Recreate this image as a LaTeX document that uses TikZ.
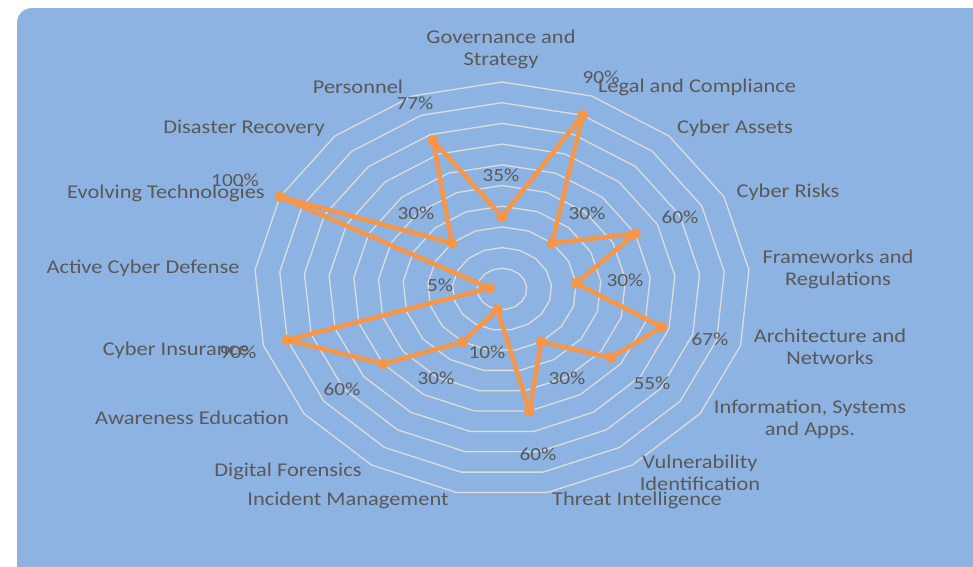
\documentclass[tikz,border=0pt]{standalone}
\usepackage{fontspec}
\setmainfont{Carlito}
\definecolor{chartblue}{HTML}{8DB3E2}
\definecolor{lineorange}{HTML}{F79646}
\definecolor{labelgrey}{HTML}{595959}
\definecolor{ringgrey}{HTML}{DCDCDC}
\begin{document}
\begin{tikzpicture}[x=1pt,y=-1pt,
  ring/.style={draw=ringgrey,line width=1.3pt},
  series/.style={draw=lineorange,line width=4.5pt,line join=round},
  cat/.style={text=labelgrey,font=\fontsize{19.5}{22}\selectfont,xscale=1.15,align=center,inner sep=0pt},
  pct/.style={text=labelgrey,font=\fontsize{18.5}{20}\selectfont,xscale=1.15,inner sep=0pt}]
\clip (0,0) rectangle (973,566);
\fill[white] (0,0) rectangle (973,566);
\fill[chartblue,rounded corners=15pt] (17,8) rectangle (995,590);
\begin{scope}[shift={(502,289)},x=248pt,y=207pt]
\foreach \k in {1,...,10}
  \draw[ring] (90:{\k/10}) \foreach \i in {1,...,16} {-- ({90-\i*360/17}:{\k/10})} -- cycle;
\foreach \v [count=\i from 0] in {35,90,30,60,30,67,55,30,60,10,30,60,90,5,100,30,77}
  \coordinate (p\i) at ({90-\i*360/17}:{\v/100});
\end{scope}
\draw[series] (p0) \foreach \i in {1,...,16} {-- (p\i)} -- cycle;
\foreach \i in {0,...,16}
  \fill[lineorange] (p\i) circle (5.5pt);
\node[cat] (gov) at (501,49) {Governance and\\Strategy};
\node[cat] (legal) at (697,87) {Legal and Compliance};
\node[cat] (assets) at (735,128) {Cyber Assets};
\node[cat] (risks) at (788,192) {Cyber Risks};
\node[cat] (frames) at (838,269) {Frameworks and\\Regulations};
\node[cat] (arch) at (830,347) {Architecture and\\Networks};
\node[cat] (infosys) at (810,419) {Information, Systems\\and Apps.};
\node[cat] (vuln) at (700,473) {Vulnerability\\Identification};
\node[cat] (threat) at (637,500) {Threat Intelligence};
\node[cat] (incident) at (348,500) {Incident Management};
\node[cat] (forensics) at (288,471) {Digital Forensics};
\node[cat] (awareness) at (192,418) {Awareness Education};
\node[cat] (insurance) at (176,350) {Cyber Insurance};
\node[cat] (activedef) at (143,268) {Active Cyber Defense};
\node[cat] (evolving) at (166,193) {Evolving Technologies};
\node[cat] (disaster) at (244,128) {Disaster Recovery};
\node[cat] (personnel) at (358,87) {Personnel};
\node[pct] (lgov) at (501,175) {35\%};
\node[pct] (llegal) at (601,77) {90\%};
\node[pct] (lassets) at (587,213) {30\%};
\node[pct] (lrisks) at (680,217) {60\%};
\node[pct] (lframes) at (625,280) {30\%};
\node[pct] (larch) at (710,339) {67\%};
\node[pct] (linfosys) at (652,383) {55\%};
\node[pct] (lvuln) at (567,378) {30\%};
\node[pct] (lthreat) at (538,454) {60\%};
\node[pct] (lincident) at (487,352) {10\%};
\node[pct] (lforensics) at (436,378) {30\%};
\node[pct] (lawareness) at (342,389) {60\%};
\node[pct] (linsurance) at (238,352) {90\%};
\node[pct] (lactivedef) at (440,285) {5\%};
\node[pct] (levolving) at (235,180) {100\%};
\node[pct] (ldisaster) at (416,213) {30\%};
\node[pct] (lpersonnel) at (415,103) {77\%};
\end{tikzpicture}
\end{document}
